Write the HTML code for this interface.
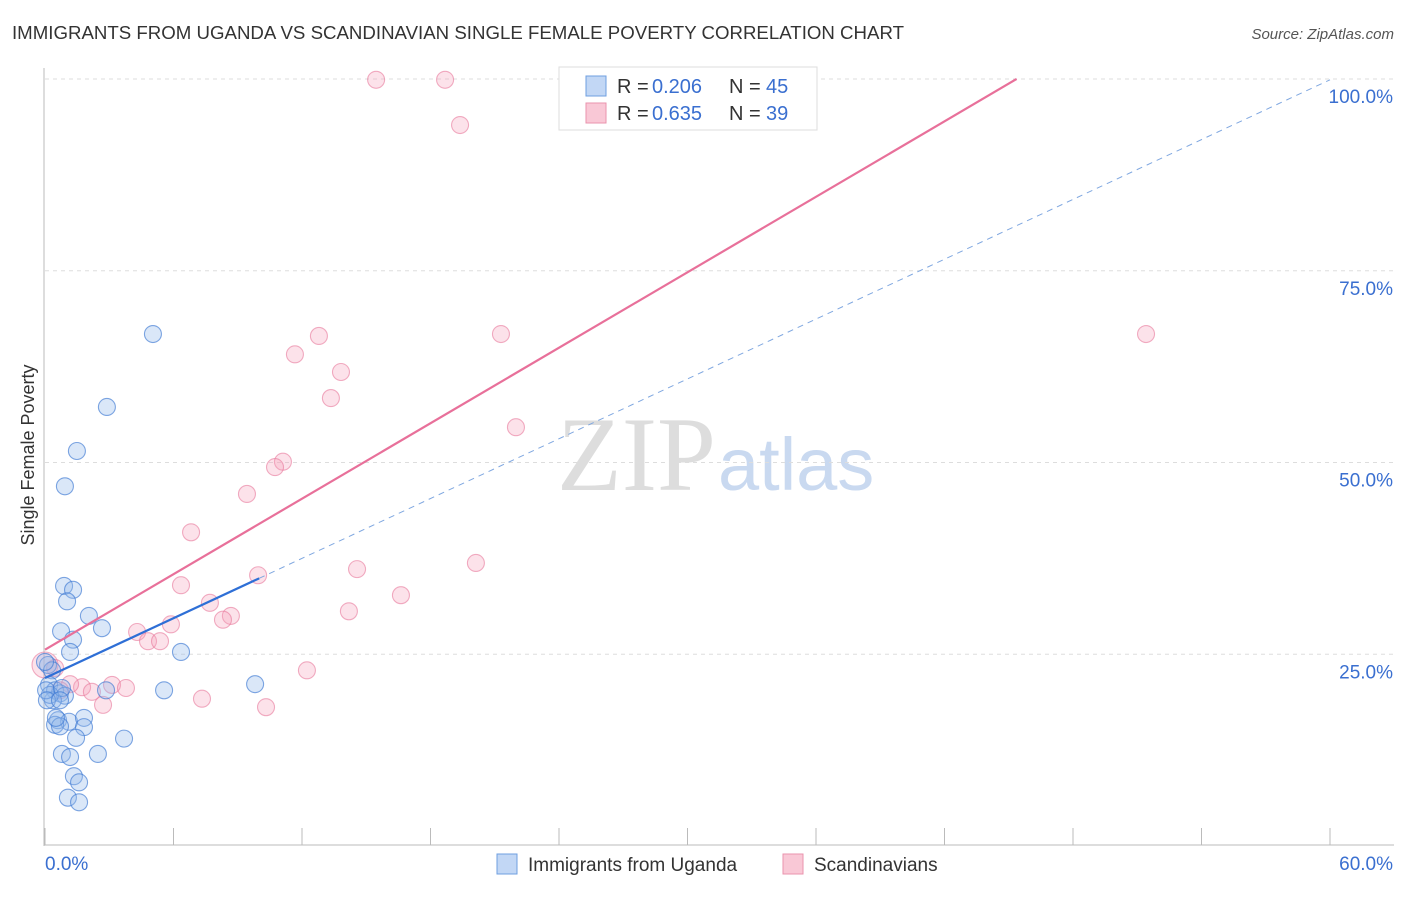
<!DOCTYPE html><html><head><meta charset="utf-8"><style>
body{margin:0;background:#fff;font-family:"Liberation Sans",sans-serif}
</style></head><body>
<svg width="1406" height="892" xmlns="http://www.w3.org/2000/svg" font-family="Liberation Sans, sans-serif">
<text x="12" y="39" font-size="18" fill="#333" textLength="892" lengthAdjust="spacingAndGlyphs">IMMIGRANTS FROM UGANDA VS SCANDINAVIAN SINGLE FEMALE POVERTY CORRELATION CHART</text>
<text x="1394" y="39" font-size="15" fill="#555" font-style="italic" text-anchor="end">Source: ZipAtlas.com</text>
<text x="716" y="490" font-size="106" fill="#ddd" text-anchor="end" font-family="Liberation Serif, serif">ZIP</text>
<text x="718" y="490" font-size="74" fill="#c9d9f0">atlas</text>
<g id="grid"></g><g id="axes"></g><g id="pts"></g><g id="lines"></g>
<text transform="translate(34,455) rotate(-90)" font-size="18" fill="#333" text-anchor="middle">Single Female Poverty</text>
<g>
<rect x="559" y="67" width="258" height="63" fill="#fff" stroke="#ddd"/>
<rect x="586" y="76" width="20" height="20" fill="#c2d7f5" stroke="#6f9fe0"/>
<rect x="586" y="103" width="20" height="20" fill="#f9c8d6" stroke="#ea93ad"/>
<text x="617" y="93" font-size="20" fill="#333">R =</text><text x="652" y="93" font-size="20" fill="#3a6fd0">0.206</text>
<text x="729" y="93" font-size="20" fill="#333">N =</text><text x="766" y="93" font-size="20" fill="#3a6fd0">45</text>
<text x="617" y="120" font-size="20" fill="#333">R =</text><text x="652" y="120" font-size="20" fill="#3a6fd0">0.635</text>
<text x="729" y="120" font-size="20" fill="#333">N =</text><text x="766" y="120" font-size="20" fill="#3a6fd0">39</text>
</g>
<g>
<rect x="497" y="854" width="20" height="20" fill="#c2d7f5" stroke="#6f9fe0"/>
<text x="528" y="871" font-size="19" fill="#333">Immigrants from Uganda</text>
<rect x="783" y="854" width="20" height="20" fill="#f9c8d6" stroke="#ea93ad"/>
<text x="814" y="871" font-size="19" fill="#333">Scandinavians</text>
</g>
</svg>
<script>
const blueX=[5.04,2.89,1.49,0.93,0.89,1.31,1.03,2.05,2.66,0.75,1.31,1.17,6.35,0.14,0.33,0.19,0.47,0.70,0.93,0.37,2.85,5.56,9.81,0.61,1.12,1.82,0.47,0.70,1.82,1.45,3.69,0.79,1.17,2.47,1.35,1.59,1.07,1.59,0.23,0.05,0.09,0.79,0.51,0.0,0.70];
const blueY=[66.75,57.24,51.5,46.9,33.9,33.4,31.9,30.0,28.4,28.0,26.9,25.3,25.3,23.6,22.9,21.0,20.3,19.9,19.6,19.0,20.3,20.3,21.1,16.4,16.2,16.7,15.8,15.6,15.5,14.1,14.0,12.0,11.6,12.0,9.1,8.3,6.3,5.7,19.7,20.3,19.0,20.6,16.7,24.0,19.0];
const pinkX=[15.46,18.68,19.38,12.79,21.29,51.41,11.67,13.82,13.35,21.99,11.11,10.74,9.43,6.82,14.57,20.12,9.95,6.35,16.62,7.70,14.19,8.68,8.31,4.30,5.88,4.81,5.37,12.23,3.13,3.78,1.73,2.19,1.17,2.71,7.33,10.32,0,0.47,0.70];
const pinkY=[99.9,99.9,94.0,66.5,66.75,66.75,64.1,61.8,58.4,54.6,50.1,49.4,45.9,40.9,36.1,36.9,35.3,34.0,32.7,31.7,30.6,30.0,29.5,27.9,28.9,26.7,26.7,22.9,21.0,20.6,20.7,20.1,21.1,18.4,19.2,18.1,23.6,23.2,20.3];
const yTicks=[25,50,75,100];
const xTickLabels=["0.0%","60.0%"];
const blueFit=[21.9,1.3], pinkFit=[25.6,1.64];
const NS="http://www.w3.org/2000/svg";
const sx=v=>45+v*1285/60, sy=v=>846-v*7.67;
function mk(t,a,p){const e=document.createElementNS(NS,t);for(const k in a)e.setAttribute(k,a[k]);document.getElementById(p).appendChild(e);return e;}
yTicks.forEach(t=>{
 const l=mk('line',{x1:45,x2:1394,y1:sy(t),y2:sy(t),stroke:'#ddd','stroke-dasharray':'4,4'},'grid');
 
 
 const tx=mk('text',{x:1393,y:sy(t)+24,'font-size':19,fill:'#3a6fd0','text-anchor':'end'},'grid');
 tx.textContent=t.toFixed(1)+'%';
 
 
});
mk('line',{x1:44,x2:44,y1:68,y2:846,stroke:'#bbb'},'axes');
mk('line',{x1:44,x2:1394,y1:845,y2:845,stroke:'#bbb'},'axes');
for(let i=0;i<=10;i++){const x=sx(i*6);mk('line',{x1:x,x2:x,y1:828,y2:845,stroke:'#bbb'},'axes');}
const t0=mk('text',{x:45,y:870,'font-size':19,fill:'#3a6fd0'},'axes');t0.textContent=xTickLabels[0];


const t1=mk('text',{x:1393,y:870,'font-size':19,fill:'#3a6fd0','text-anchor':'end'},'axes');t1.textContent=xTickLabels[1];


pinkX.forEach((x,i)=>{const c=mk('circle',{cx:sx(x),cy:sy(pinkY[i]),r:i==36?13:8.5,fill:'rgba(244,160,185,0.3)',stroke:'rgba(232,120,155,0.6)','stroke-width':1.1},'pts');
 
 });
blueX.forEach((x,i)=>{const c=mk('circle',{cx:sx(x),cy:sy(blueY[i]),r:8.5,fill:'rgba(150,185,235,0.35)',stroke:'rgba(60,120,210,0.65)','stroke-width':1.1},'pts');
 
 });
const pe=(100-pinkFit[0])/pinkFit[1];
const pl=mk('line',{x1:sx(0),y1:sy(pinkFit[0]),x2:sx(pe),y2:sy(100),stroke:'#e8709a','stroke-width':2.2},'lines');


const bd=mk('line',{x1:sx(10),y1:sy(blueFit[0]+blueFit[1]*10),x2:sx(60),y2:sy(blueFit[0]+blueFit[1]*60),stroke:'#7fa7e0','stroke-width':1,'stroke-dasharray':'6,5'},'lines');


const bl=mk('line',{x1:sx(0),y1:sy(blueFit[0]),x2:sx(10),y2:sy(blueFit[0]+blueFit[1]*10),stroke:'#2e6fd6','stroke-width':2.2},'lines');


</script>
</body></html>
